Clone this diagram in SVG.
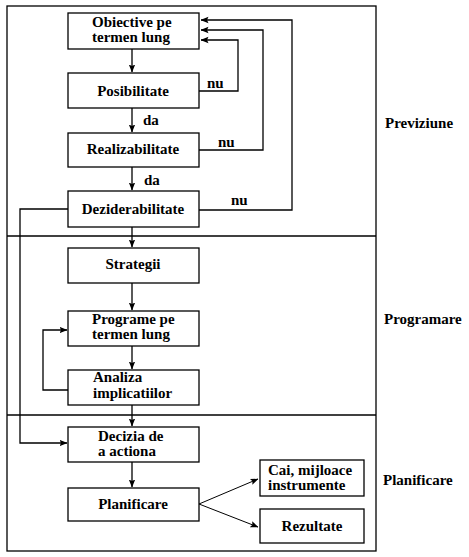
<svg xmlns="http://www.w3.org/2000/svg" width="469" height="557" viewBox="0 0 469 557">
<defs>
<marker id="ah" markerUnits="userSpaceOnUse" markerWidth="8" markerHeight="8" viewBox="0 0 8 8" refX="7.5" refY="4" orient="auto">
<path d="M0,0.8 L8,4 L0,7.2 L1.5,4 Z" fill="#000"/>
</marker>
</defs>
<style>
.box{fill:#fff;stroke:#000;stroke-width:1.3}
.frame{fill:none;stroke:#000;stroke-width:1.3}
.ln{fill:none;stroke:#000;stroke-width:1.3}
.thin{fill:none;stroke:#000;stroke-width:1}
text{font-weight:bold;font-size:15px;fill:#000}
.c{text-anchor:middle}
</style>
<rect width="469" height="557" fill="#fff"/>
<g font-family="'Liberation Serif', 'Times New Roman', 'DejaVu Serif', serif">
<g id="frame">
<rect class="frame" x="7" y="6" width="369" height="545"/>
<line class="frame" x1="7" y1="236" x2="376" y2="236"/>
<line class="frame" x1="7" y1="415" x2="376" y2="415"/>
<text x="385" y="128">Previziune</text>
<text x="384" y="324">Programare</text>
<text x="383" y="485">Planificare</text>
</g>
<g id="connectors">
<line class="ln" x1="132" y1="49" x2="132" y2="72" marker-end="url(#ah)"/>
<line class="ln" x1="132" y1="108" x2="132" y2="132" marker-end="url(#ah)"/>
<line class="ln" x1="132" y1="167" x2="132" y2="190" marker-end="url(#ah)"/>
<line class="ln" x1="132" y1="227" x2="132" y2="247" marker-end="url(#ah)"/>
<line class="ln" x1="132" y1="283" x2="132" y2="310" marker-end="url(#ah)"/>
<line class="ln" x1="132" y1="346" x2="132" y2="369" marker-end="url(#ah)"/>
<line class="ln" x1="132" y1="405" x2="132" y2="426" marker-end="url(#ah)"/>
<line class="ln" x1="132" y1="462" x2="132" y2="487" marker-end="url(#ah)"/>
<polyline class="ln" points="199,91 238,91 238,40 201,40" marker-end="url(#ah)"/>
<polyline class="ln" points="199,150 263,150 263,30 201,30" marker-end="url(#ah)"/>
<polyline class="ln" points="199,210 292,210 292,20 201,20" marker-end="url(#ah)"/>
<polyline class="ln" points="68,209 20,209 20,443 67,443" marker-end="url(#ah)"/>
<polyline class="ln" points="68,390 43,390 43,330 67,330" marker-end="url(#ah)"/>
<line class="thin" x1="199" y1="504" x2="258" y2="479" marker-end="url(#ah)"/>
<line class="thin" x1="199" y1="504" x2="258" y2="527" marker-end="url(#ah)"/>
<text x="207" y="88">nu</text>
<text x="218" y="147">nu</text>
<text x="231" y="205">nu</text>
<text x="143" y="125">da</text>
<text x="144" y="185">da</text>
</g>
<g id="n-obiective">
<rect class="box" x="68" y="13" width="131" height="36"/>
<text x="92" y="27">Obiective pe</text>
<text x="92" y="42">termen lung</text>
</g>
<g id="n-posibilitate">
<rect class="box" x="68" y="73" width="131" height="35"/>
<text class="c" x="133" y="96">Posibilitate</text>
</g>
<g id="n-realizabilitate">
<rect class="box" x="68" y="133" width="131" height="34"/>
<text class="c" x="133" y="154">Realizabilitate</text>
</g>
<g id="n-deziderabilitate">
<rect class="box" x="68" y="191" width="131" height="36"/>
<text class="c" x="133" y="214">Deziderabilitate</text>
</g>
<g id="n-strategii">
<rect class="box" x="68" y="248" width="131" height="35"/>
<text class="c" x="133" y="269">Strategii</text>
</g>
<g id="n-programe">
<rect class="box" x="68" y="311" width="131" height="35"/>
<text x="92" y="324">Programe pe</text>
<text x="92" y="339">termen lung</text>
</g>
<g id="n-analiza">
<rect class="box" x="68" y="370" width="131" height="35"/>
<text x="93" y="382">Analiza</text>
<text x="93" y="398">implicatiilor</text>
</g>
<g id="n-decizia">
<rect class="box" x="68" y="427" width="131" height="35"/>
<text x="98" y="441">Decizia de</text>
<text x="98" y="456">a actiona</text>
</g>
<g id="n-planificare">
<rect class="box" x="68" y="488" width="131" height="33"/>
<text class="c" x="133" y="509">Planificare</text>
</g>
<g id="n-cai">
<rect class="box" x="260" y="460" width="104" height="36"/>
<text x="268" y="475">Cai, mijloace</text>
<text x="268" y="490">instrumente</text>
</g>
<g id="n-rezultate">
<rect class="box" x="260" y="509" width="104" height="34"/>
<text class="c" x="312" y="531">Rezultate</text>
</g>
</g>
</svg>
